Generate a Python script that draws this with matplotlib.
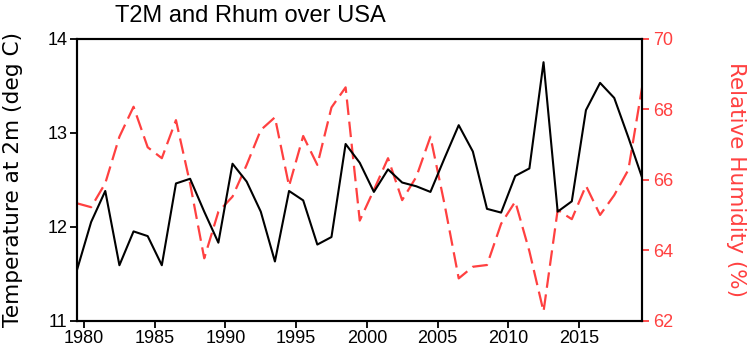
import matplotlib
matplotlib.use("Agg")
import matplotlib.pyplot as plt
import numpy as np

plt.rcParams["font.family"] = ["Liberation Sans", "DejaVu Sans"]

# Annual means, 1979-2019
years = np.arange(1979, 2020)
t2m = [11.54, 12.05, 12.38, 11.59, 11.95, 11.90, 11.59, 12.46, 12.51, 12.16,
       11.83, 12.67, 12.48, 12.16, 11.63, 12.38, 12.28, 11.81, 11.89, 12.88,
       12.68, 12.37, 12.61, 12.47, 12.43, 12.37, 12.73, 13.08, 12.80, 12.19,
       12.15, 12.54, 12.62, 13.75, 12.16, 12.27, 13.24, 13.53, 13.37, 12.95,
       12.51]
rhum = [65.33, 65.22, 65.90, 67.22, 68.07, 66.92, 66.61, 67.69, 65.89, 63.77,
        65.09, 65.52, 66.42, 67.41, 67.77, 65.82, 67.24, 66.42, 68.05, 68.62,
        64.84, 65.71, 66.61, 65.42, 66.08, 67.22, 65.30, 63.20, 63.53, 63.58,
        64.75, 65.38, 63.97, 62.26, 65.14, 64.88, 65.83, 65.00, 65.56, 66.28,
        68.69]
xticks = [1980, 1985, 1990, 1995, 2000, 2005, 2010, 2015]

RED = "#ff4040"

fig = plt.figure(figsize=(7.49, 3.49), dpi=100)
ax = fig.add_axes([0.1028, 0.0811, 0.755, 0.808])
ax2 = ax.twinx()

# data sit at mid-year
x = years + 0.5
ax.plot(x, t2m, color="black", linewidth=1.5, zorder=3)
ax2.plot(x, rhum, color=RED, linewidth=1.6, dashes=(7, 3))
ax.set_zorder(ax2.get_zorder() + 1)
ax.patch.set_visible(False)

ax.set_xlim(1979.5, 2019.5)
ax.set_ylim(11, 14)
ax2.set_ylim(62, 70)
ax.set_xticks(xticks)
ax.set_yticks([11, 12, 13, 14])
ax2.set_yticks([62, 64, 66, 68, 70])

for a in (ax, ax2):
    for s in a.spines.values():
        s.set_linewidth(1.5)
ax.tick_params(axis="both", direction="out", length=5, width=1.3,
               labelsize=13, pad=2)
ax2.tick_params(axis="y", direction="out", length=5, width=1.3,
                labelsize=13, colors=RED, pad=3)

ax.set_ylabel("Temperature at 2m (deg C)", fontsize=15.6,
              family="DejaVu Sans", va="center")
ax.yaxis.set_label_coords(-0.113, 0.5)
ax2.set_ylabel("Relative Humidity (%)", fontsize=15.5, color=RED,
               rotation=270, family="DejaVu Sans", va="center")
ax2.yaxis.set_label_coords(1.165, 0.502)
fig.text(0.334, 0.953, "T2M and Rhum over USA", fontsize=17,
         ha="center", va="center")

fig.savefig("out.png", dpi=100)
